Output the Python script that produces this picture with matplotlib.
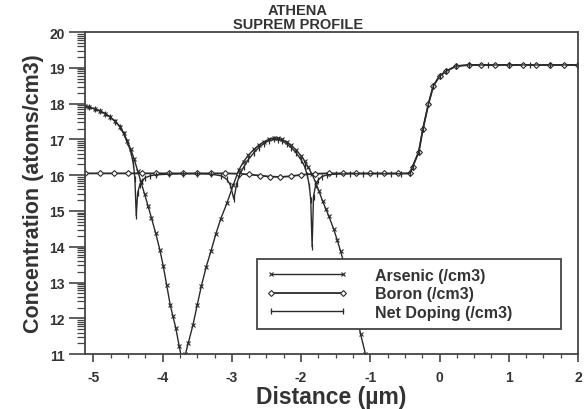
import matplotlib
matplotlib.use("Agg")
import matplotlib.pyplot as plt
import matplotlib.ticker as mticker
import numpy as np

plt.rcParams['font.family'] = ['Liberation Sans', 'DejaVu Sans']
plt.rcParams['axes.unicode_minus'] = False

# log10 concentration profiles
as_x = [-5.12, -5.06, -4.98, -4.90, -4.83, -4.76, -4.68, -4.61, -4.56, -4.51,
        -4.46, -4.41, -4.36, -4.31, -4.26, -4.21, -4.16, -4.10, -4.04, -3.99,
        -3.94, -3.89, -3.85, -3.81, -3.76, -3.72, -3.70, -3.67, -3.63, -3.56,
        -3.50, -3.44, -3.37, -3.30, -3.23, -3.16, -3.07, -2.98, -2.90, -2.83,
        -2.76, -2.68, -2.61, -2.54, -2.47, -2.39, -2.33, -2.28, -2.21, -2.14,
        -2.07, -2.00, -1.95, -1.90, -1.84, -1.79, -1.74, -1.69, -1.64, -1.60,
        -1.53, -1.48, -1.43, -1.33, -1.23, -1.14, -1.07, -1.03]
as_y = [17.92, 17.90, 17.85, 17.79, 17.72, 17.63, 17.50, 17.35, 17.17, 16.96,
        16.72, 16.45, 16.12, 15.80, 15.47, 15.14, 14.80, 14.38, 13.92, 13.46,
        12.92, 12.38, 12.05, 11.74, 11.22, 10.85, 10.70, 11.00, 11.30, 11.82,
        12.37, 12.90, 13.44, 13.88, 14.36, 14.78, 15.22, 15.72, 16.14, 16.38,
        16.56, 16.72, 16.84, 16.93, 17.00, 17.04, 17.03, 17.00, 16.93, 16.83,
        16.70, 16.54, 16.40, 16.23, 16.02, 15.80, 15.55, 15.28, 15.05, 14.86,
        14.50, 14.20, 13.88, 13.20, 12.40, 11.56, 11.00, 10.60]

b_x = [-5.12, -4.9, -4.7, -4.5, -4.3, -4.1, -3.9, -3.7, -3.5, -3.3,
       -3.1, -2.9, -2.75, -2.6, -2.45, -2.3, -2.15, -2.0, -1.8, -1.6,
       -1.4, -1.2, -1.0, -0.8, -0.6, -0.43, -0.39, -0.30, -0.24, -0.16,
       -0.09, 0.0, 0.10, 0.24, 0.43, 0.6, 0.8, 1.0, 1.2, 1.4,
       1.6, 1.8, 2.0]
b_y = [16.05, 16.05, 16.05, 16.05, 16.05, 16.05, 16.05, 16.05, 16.05, 16.05,
       16.05, 16.04, 16.02, 15.99, 15.96, 15.95, 15.97, 16.01, 16.04, 16.05,
       16.05, 16.05, 16.05, 16.05, 16.05, 16.05, 16.23, 16.65, 17.29, 17.99,
       18.49, 18.77, 18.91, 19.05, 19.08, 19.08, 19.08, 19.08, 19.08, 19.08,
       19.08, 19.08, 19.08]

net_x = [-5.12, -5.06, -4.98, -4.90, -4.83, -4.76, -4.68, -4.61, -4.56, -4.51,
         -4.46, -4.42, -4.40, -4.38, -4.36, -4.33, -4.30, -4.25, -4.18, -4.10,
         -3.90, -3.70, -3.50, -3.30, -3.15, -3.07, -3.02, -2.97, -2.93, -2.89,
         -2.83, -2.76, -2.68, -2.61, -2.54, -2.47, -2.39, -2.33, -2.28, -2.21,
         -2.14, -2.07, -2.00, -1.95, -1.91, -1.88, -1.86, -1.84, -1.82, -1.79,
         -1.75, -1.70, -1.62, -1.50, -1.30, -1.10, -0.90, -0.70, -0.55, -0.43,
         -0.39, -0.30, -0.24, -0.16, -0.09, 0.00, 0.10, 0.24, 0.43, 0.70,
         1.00, 1.30, 1.60, 2.00]
net_y = [17.92, 17.90, 17.85, 17.79, 17.72, 17.63, 17.49, 17.34, 17.15, 16.93,
         16.66, 16.30, 15.90, 14.86, 15.50, 15.72, 15.84, 15.93, 15.98, 16.01,
         16.03, 16.04, 16.04, 16.03, 15.98, 15.88, 15.72, 15.33, 15.75, 16.00,
         16.22, 16.44, 16.63, 16.77, 16.88, 16.96, 17.00, 16.99, 16.96, 16.88,
         16.77, 16.62, 16.43, 16.25, 16.00, 15.70, 15.30, 14.00, 15.40, 15.72,
         15.87, 15.96, 16.01, 16.03, 16.04, 16.04, 16.04, 16.04, 16.04, 16.05,
         16.23, 16.65, 17.29, 17.99, 18.49, 18.77, 18.91, 19.05, 19.08, 19.08,
         19.08, 19.08, 19.08, 19.08]

x_ticks = [-5, -4, -3, -2, -1, 0, 1, 2]
y_ticks = [11, 12, 13, 14, 15, 16, 17, 18, 19, 20]

ink = '#2a2a2a'
txt = '#333333'

fig = plt.figure(figsize=(5.88, 4.10), dpi=100)
ax = fig.add_axes([0.1446, 0.134, 0.8384, 0.7854])

ax.plot(as_x, as_y, color=ink, lw=1.0, marker='x', ms=3.5, mew=0.8,
        label='Arsenic (/cm3)')
ax.plot(b_x, b_y, color=ink, lw=1.3, marker='D', ms=3, mew=0.8,
        mfc='white', label='Boron (/cm3)')
ax.plot(net_x, net_y, color=ink, lw=1.0, marker='|', ms=5, mew=0.9,
        label='Net Doping (/cm3)')

ax.set_xlim(-5.12, 2.0)
ax.set_ylim(11, 20)
ax.set_xticks(x_ticks)
ax.set_yticks(y_ticks)
ax.xaxis.set_minor_locator(mticker.MultipleLocator(0.25))
minor_y = [n + np.log10(k) for n in y_ticks[:-1] for k in range(2, 10)]
ax.yaxis.set_minor_locator(mticker.FixedLocator(minor_y))

ax.tick_params(axis='y', which='major', direction='out', length=11.5,
               width=1.2, color='#444444', pad=3, labelsize=10,
               labelcolor=txt)
ax.tick_params(axis='y', which='minor', direction='out', length=5.8,
               width=0.9, color='#444444')
ax.tick_params(axis='x', which='major', direction='out', length=5.5,
               width=1.2, color='#444444', pad=6, labelsize=10,
               labelcolor=txt)
ax.tick_params(axis='x', which='minor', direction='out', length=3,
               width=0.9, color='#444444')
for lab in ax.get_xticklabels() + ax.get_yticklabels():
    lab.set_fontweight('bold')

for sp in ax.spines.values():
    sp.set_color('#444444')
    sp.set_linewidth(1.3)

ax.set_xlabel('Distance (\u00b5m)', fontsize=16.5, fontweight='bold',
              color=txt, labelpad=1)
ax.set_ylabel('Concentration (atoms/cm3)', fontsize=15.5, fontweight='bold',
              color=txt, labelpad=4)

fig.text(0.507, 0.974, 'ATHENA', ha='center', va='center', fontsize=10.5,
         fontweight='bold', color=txt)
fig.text(0.507, 0.940, 'SUPREM PROFILE', ha='center', va='center',
         fontsize=10.5, fontweight='bold', color=txt)

leg = ax.legend(loc='upper left', bbox_to_anchor=(0.349, 0.081, 0.617, 0.214),
                mode='expand', borderaxespad=0, numpoints=2,
                handlelength=5.1, handletextpad=1.75, labelspacing=0.22,
                borderpad=0.55, fancybox=False, framealpha=1,
                edgecolor='#444444', prop={'size': 11.5, 'weight': 'bold'})
leg.get_frame().set_linewidth(1.3)
for t in leg.get_texts():
    t.set_color(txt)

fig.savefig('out.png', dpi=100)
